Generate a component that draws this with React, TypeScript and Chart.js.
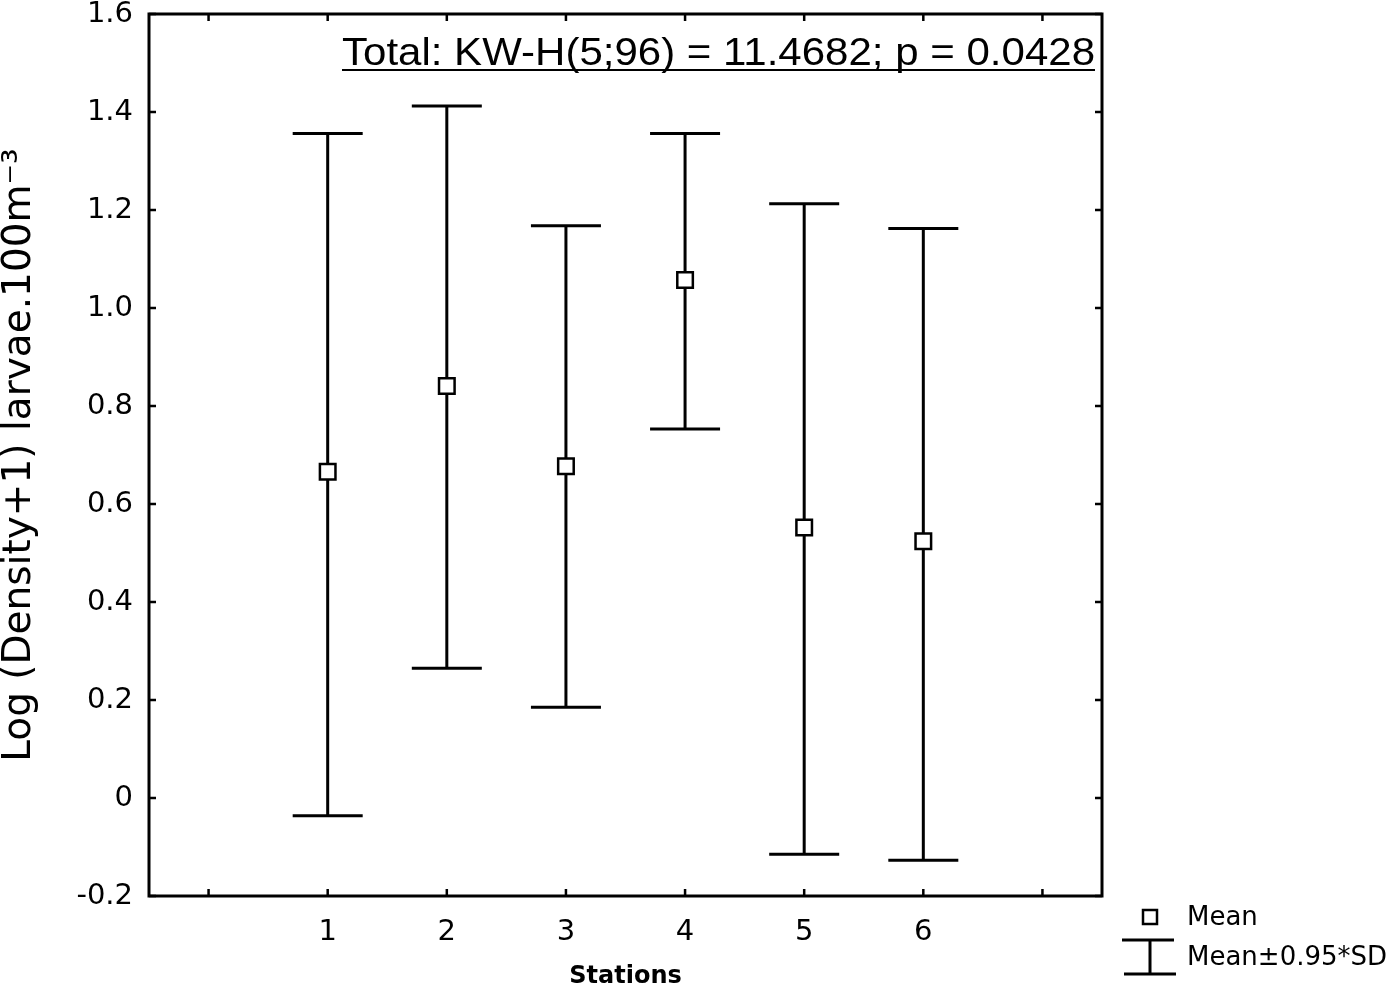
import React, { useEffect, useRef } from 'react';
import { Chart, registerables } from 'chart.js';

Chart.register(...registerables);

// ---- data ----
const stations = [1, 2, 3, 4, 5, 6];
const means = [0.666, 0.841, 0.677, 1.057, 0.552, 0.524];
const upper = [1.356, 1.412, 1.168, 1.356, 1.213, 1.162];
const lower = [-0.036, 0.265, 0.185, 0.753, -0.115, -0.127];
const xTickValues = [0, 1, 2, 3, 4, 5, 6, 7];
const xTickLabels = ['', '1', '2', '3', '4', '5', '6', ''];
const yTickValues = [-0.2, 0, 0.2, 0.4, 0.6, 0.8, 1.0, 1.2, 1.4, 1.6];
const yTitle = 'Log (Density+1) larvae.100m\u207B\u00B3';
const xTitle = 'Stations';
const annotationText = 'Total: KW-H(5;96) = 11.4682; p = 0.0428';
const legendMean = 'Mean';
const legendSD = 'Mean\u00B10.95*SD';

const FONT = "'DejaVu Sans', Verdana, sans-serif";

const errorBarPlugin = {
  id: 'errorBars',
  beforeDatasetsDraw(chart: any) {
    const { ctx, scales } = chart;
    const x = scales.x;
    const y = scales.y;
    ctx.save();
    ctx.strokeStyle = '#000';
    ctx.lineWidth = 3;
    ctx.lineCap = 'butt';
    const half = 35;
    stations.forEach((s, i) => {
      const px = x.getPixelForValue(s);
      const yHi = y.getPixelForValue(upper[i]);
      const yLo = y.getPixelForValue(lower[i]);
      ctx.beginPath();
      ctx.moveTo(px, yHi);
      ctx.lineTo(px, yLo);
      ctx.moveTo(px - half, yHi);
      ctx.lineTo(px + half, yHi);
      ctx.moveTo(px - half, yLo);
      ctx.lineTo(px + half, yLo);
      ctx.stroke();
    });
    ctx.restore();
  },
};

const framePlugin = {
  id: 'frame',
  afterDraw(chart: any) {
    const { ctx, chartArea, scales } = chart;
    const { left, right, top, bottom } = chartArea;
    const x = scales.x;
    const y = scales.y;
    ctx.save();
    ctx.strokeStyle = '#000';
    ctx.lineWidth = 3;
    ctx.strokeRect(left, top, right - left, bottom - top);
    ctx.lineWidth = 2.5;
    const tl = 7;
    ctx.beginPath();
    x.ticks.forEach((t: any) => {
      const px = x.getPixelForValue(t.value);
      ctx.moveTo(px, bottom);
      ctx.lineTo(px, bottom - tl);
      ctx.moveTo(px, top);
      ctx.lineTo(px, top + tl);
    });
    y.ticks.forEach((t: any) => {
      const py = y.getPixelForValue(t.value);
      ctx.moveTo(left, py);
      ctx.lineTo(left + tl, py);
      ctx.moveTo(right, py);
      ctx.lineTo(right - tl, py);
    });
    ctx.stroke();

    // annotation (underlined, right aligned, condensed)
    ctx.fillStyle = '#000';
    ctx.font = "38px 'Liberation Sans', Arial, sans-serif";
    ctx.textBaseline = 'alphabetic';
    ctx.textAlign = 'left';
    const targetW = 753;
    const w = ctx.measureText(annotationText).width;
    const sx = targetW / w;
    const tx = right - 7 - targetW;
    const ty = top + 51;
    ctx.save();
    ctx.translate(tx, ty);
    ctx.scale(sx, 1);
    ctx.fillText(annotationText, 0, 0);
    ctx.restore();
    ctx.lineWidth = 2;
    ctx.beginPath();
    ctx.moveTo(tx, ty + 5);
    ctx.lineTo(tx + targetW, ty + 5);
    ctx.stroke();

    // legend
    const lx = right + 48;
    ctx.lineWidth = 2.5;
    ctx.fillStyle = '#fff';
    ctx.fillRect(lx - 7, 910, 14, 14);
    ctx.strokeRect(lx - 7, 910, 14, 14);
    ctx.lineWidth = 3;
    ctx.beginPath();
    ctx.moveTo(lx - 28, 940);
    ctx.lineTo(lx + 24, 940);
    ctx.moveTo(lx, 940);
    ctx.lineTo(lx, 974);
    ctx.moveTo(lx - 26, 974);
    ctx.lineTo(lx + 26, 974);
    ctx.stroke();
    ctx.fillStyle = '#000';
    ctx.font = `26px ${FONT}`;
    ctx.textBaseline = 'middle';
    ctx.fillText(legendMean, lx + 37, 918);
    ctx.fillText(legendSD, lx + 37, 958);
    ctx.restore();
  },
};

export default function App() {
  const canvasRef = useRef<HTMLCanvasElement | null>(null);

  useEffect(() => {
    const canvas = canvasRef.current;
    if (!canvas) return;
    const chart = new Chart(canvas, {
      type: 'scatter',
      data: {
        datasets: [
          {
            label: legendMean,
            data: stations.map((s, i) => ({ x: s, y: means[i] })),
            pointStyle: 'rect',
            pointRadius: 11,
            pointHoverRadius: 11,
            pointBackgroundColor: '#fff',
            pointBorderColor: '#000',
            pointBorderWidth: 2.5,
            showLine: false,
          },
        ],
      },
      options: {
        responsive: false,
        devicePixelRatio: 1,
        animation: false,
        events: [],
        layout: { padding: { left: 0, top: 14, right: 298, bottom: 0 } },
        plugins: {
          legend: { display: false },
          tooltip: { enabled: false },
        },
        scales: {
          x: {
            type: 'linear',
            min: -0.5,
            max: 7.5,
            afterBuildTicks: (scale: any) => {
              scale.ticks = xTickValues.map((v) => ({ value: v }));
            },
            afterFit: (scale: any) => {
              scale.height = 95;
              scale.paddingLeft = 0;
              scale.paddingRight = 0;
            },
            grid: { display: false, drawTicks: false },
            border: { display: false },
            ticks: {
              autoSkip: false,
              maxRotation: 0,
              padding: 22,
              color: '#000',
              font: { family: FONT, size: 29, lineHeight: 1 },
              callback: (value: any) => {
                const idx = xTickValues.indexOf(Number(value));
                return idx >= 0 ? xTickLabels[idx] : '';
              },
            },
            title: {
              display: true,
              text: xTitle,
              color: '#000',
              font: { family: FONT, size: 24, weight: 'bold', lineHeight: 1 },
              padding: { top: 0, bottom: 2 },
            },
          },
          y: {
            type: 'linear',
            min: -0.2,
            max: 1.6,
            afterBuildTicks: (scale: any) => {
              scale.ticks = yTickValues.map((v) => ({ value: v }));
            },
            afterFit: (scale: any) => {
              scale.width = 149;
              scale.paddingTop = 0;
              scale.paddingBottom = 0;
            },
            grid: { display: false, drawTicks: false },
            border: { display: false },
            ticks: {
              autoSkip: false,
              padding: 16,
              color: '#000',
              font: { family: FONT, size: 29, lineHeight: 1 },
              callback: (value: any) => {
                const v = Number(value);
                return Math.abs(v) < 1e-9 ? '0' : v.toFixed(1);
              },
            },
            title: {
              display: true,
              text: yTitle,
              color: '#000',
              font: { family: FONT, size: 39, lineHeight: 1 },
              padding: { top: 0, bottom: 0 },
            },
          },
        },
      },
      plugins: [errorBarPlugin, framePlugin],
    } as any);
    return () => chart.destroy();
  }, []);

  return (
    <div style={{ position: 'fixed', left: 0, top: 0, width: 1400, height: 991, background: '#fff' }}>
      <canvas ref={canvasRef} width={1400} height={991} style={{ display: 'block', width: 1400, height: 991 }} />
    </div>
  );
}
